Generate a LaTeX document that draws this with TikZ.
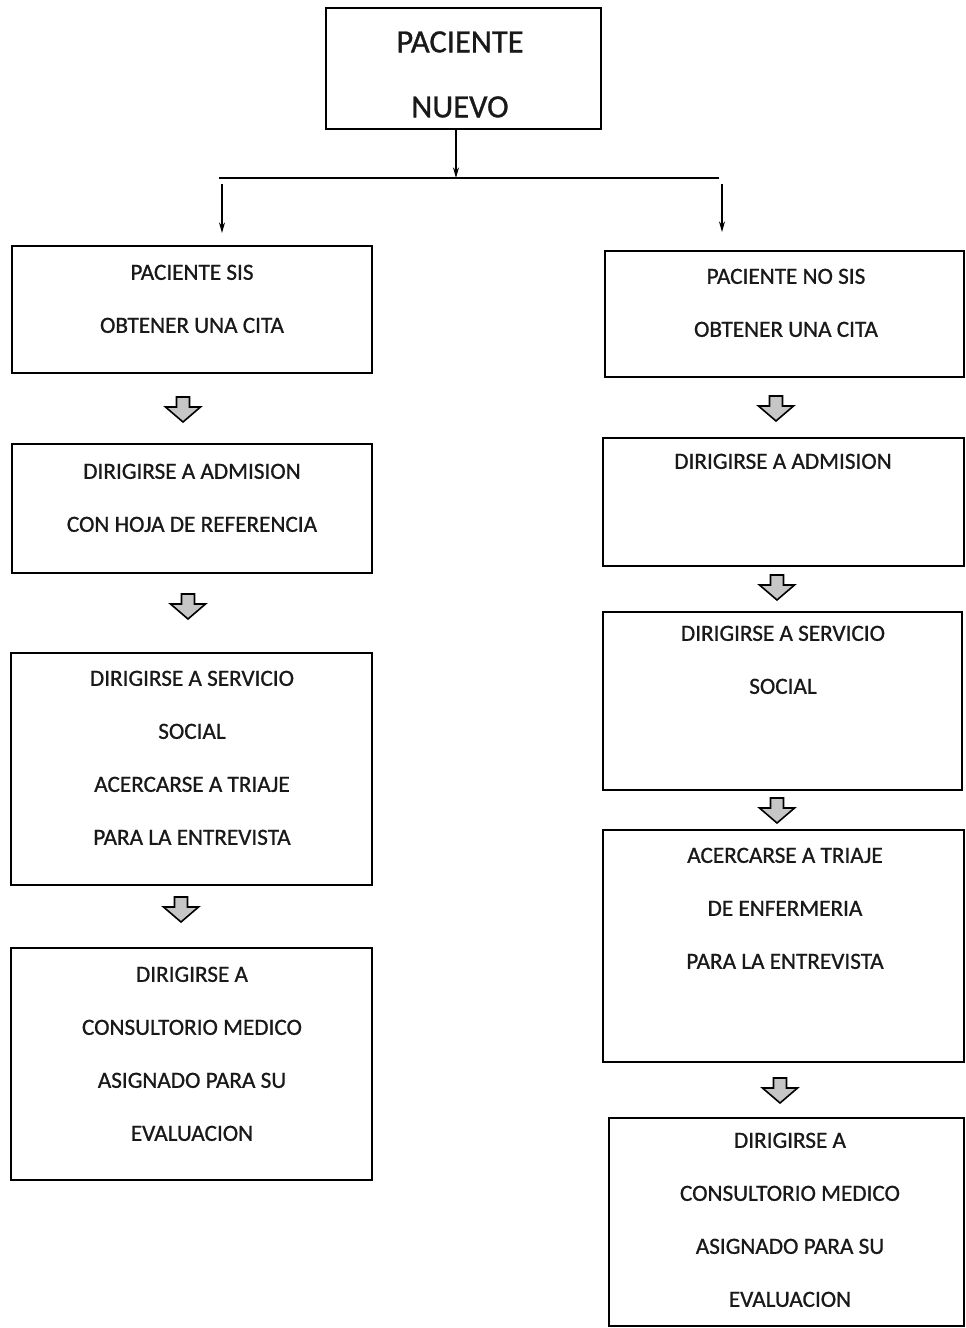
\documentclass[tikz,border=0pt]{standalone}
\usepackage{fontspec}
\setmainfont{Carlito}[FakeBold=0.9]
\usetikzlibrary{fit,arrows.meta}
\begin{document}
\begin{tikzpicture}[x=0.75pt,y=-0.75pt,
  box/.style={draw=black, line width=1.4pt, inner sep=0pt},
  txt/.style={inner sep=0pt, align=center, anchor=north, text=black!90,
    font=\fontsize{17.4pt}{39.75pt}\selectfont},
  ttl/.style={inner sep=0pt, align=center, anchor=north, text=black!90,
    font=\fontsize{24.4pt}{48.75pt}\selectfont},
  thinarrow/.style={-{Stealth[length=8pt,width=4.5pt]}, line width=0.9pt},
  blockarrow/.pic={
    \draw[fill=gray!45, line width=1.2pt, line join=miter]
      (-6.5,0) -- (6.5,0) -- (6.5,10) -- (17.5,10) -- (0,25)
      -- (-17.5,10) -- (-6.5,10) -- cycle;
  }]
\useasboundingbox (0,0) rectangle (966,1328);

% title
\node[box, fit={(326,8)(601,129)}] (title) {};
\node[ttl] (titletxt) at (460,31) {PACIENTE\\NUEVO};

% connectors
\coordinate (hub) at (456,178);
\coordinate (hl) at (219,178);
\coordinate (hr) at (719,178);
\coordinate (ls) at (222,184);
\coordinate (le) at (222,233);
\coordinate (rs) at (722,184);
\coordinate (re) at (722,232);
\draw[thinarrow] (title.south -| hub) -- (hub);
\draw[line width=1.2pt] (hl) -- (hr);
\draw[thinarrow] (ls) -- (le);
\draw[thinarrow] (rs) -- (re);

% left column
\node[box, fit={(12,246)(372,373)}] (L1) {};
\node[txt] (L1t) at (192,264.5) {PACIENTE SIS\\OBTENER UNA CITA};
\pic at (183,397) {blockarrow};
\node[box, fit={(12,444)(372,573)}] (L2) {};
\node[txt] (L2t) at (192,463.5) {DIRIGIRSE A ADMISION\\CON HOJA DE REFERENCIA};
\pic at (188,594) {blockarrow};
\node[box, fit={(11,653)(372,885)}] (L3) {};
\node[txt] (L3t) at (192,670.5) {DIRIGIRSE A SERVICIO\\SOCIAL\\ACERCARSE A TRIAJE\\PARA LA ENTREVISTA};
\pic at (181,897) {blockarrow};
\node[box, fit={(11,948)(372,1180)}] (L4) {};
\node[txt] (L4t) at (192,966.5) {DIRIGIRSE A\\CONSULTORIO MEDICO\\ASIGNADO PARA SU\\EVALUACION};

% right column
\node[box, fit={(605,251)(964,377)}] (R1) {};
\node[txt] (R1t) at (786,268.5) {PACIENTE NO SIS\\OBTENER UNA CITA};
\pic at (776,396) {blockarrow};
\node[box, fit={(603,438)(964,566)}] (R2) {};
\node[txt] (R2t) at (783,453.5) {DIRIGIRSE A ADMISION};
\pic at (777,575) {blockarrow};
\node[box, fit={(603,612)(962,790)}] (R3) {};
\node[txt] (R3t) at (783,625.5) {DIRIGIRSE A SERVICIO\\SOCIAL};
\pic at (777,798) {blockarrow};
\node[box, fit={(603,830)(964,1062)}] (R4) {};
\node[txt] (R4t) at (785,847.5) {ACERCARSE A TRIAJE\\DE ENFERMERIA\\PARA LA ENTREVISTA};
\pic at (780,1078) {blockarrow};
\node[box, fit={(609,1118)(964,1326)}] (R5) {};
\node[txt] (R5t) at (790,1132.5) {DIRIGIRSE A\\CONSULTORIO MEDICO\\ASIGNADO PARA SU\\EVALUACION};
\end{tikzpicture}
\end{document}
